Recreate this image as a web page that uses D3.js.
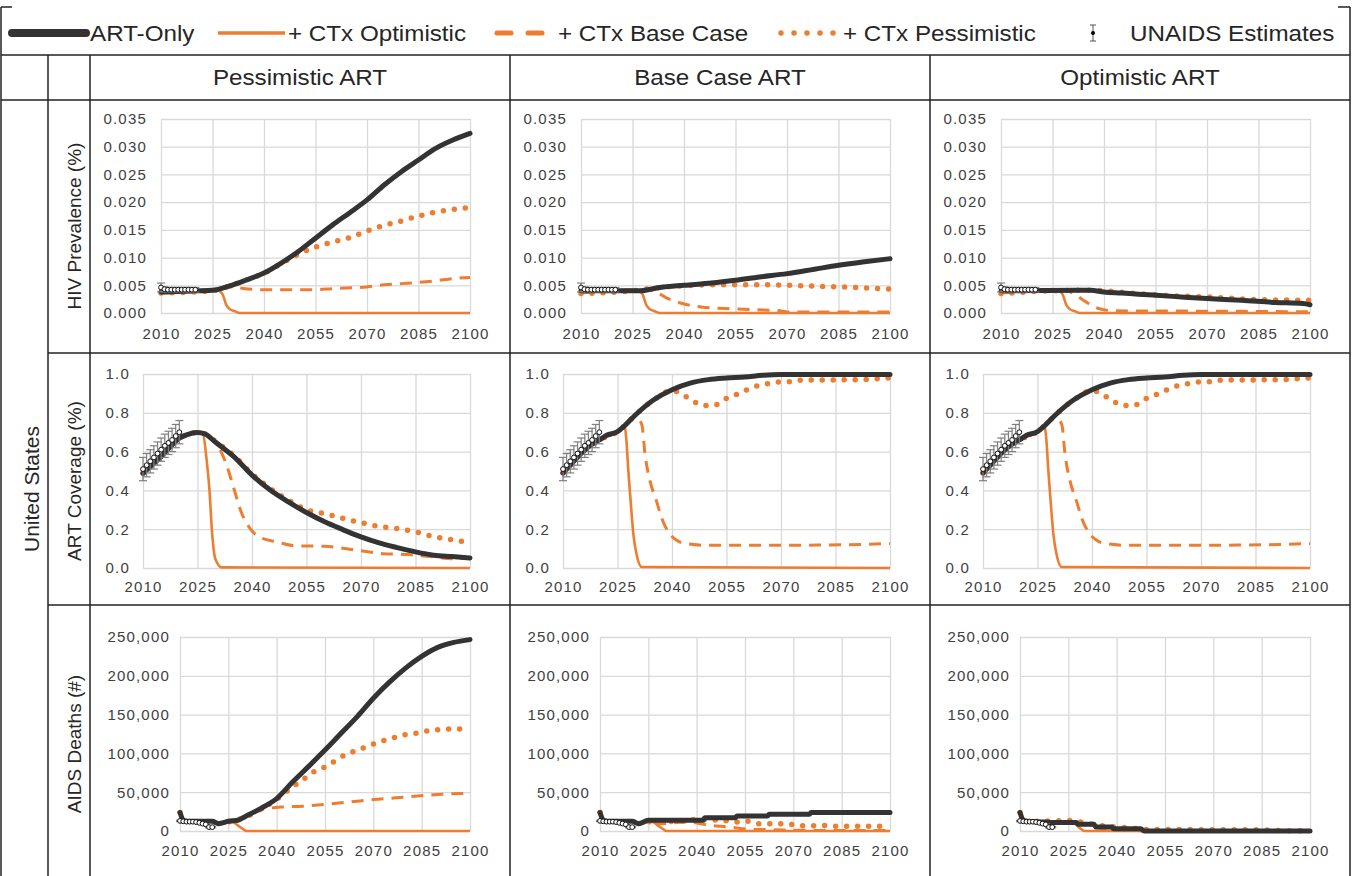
<!DOCTYPE html>
<html>
<head>
<meta charset="utf-8">
<script src="https://cdn.jsdelivr.net/npm/d3@7"></script>
<style>
  body { margin: 0; background: #fff; }
  svg { display: block; font-family: "Liberation Sans", Arial, sans-serif; }
</style>
</head>
<body>
<svg id="chart" width="1352" height="876"></svg>
<script>
// ---- labels ----
const legendNames = ["ART-Only", "+ CTx Optimistic", "+ CTx Base Case", "+ CTx Pessimistic", "UNAIDS Estimates"];
const scenarioNames = ["Pessimistic ART", "Base Case ART", "Optimistic ART"];
const metricNames = ["HIV Prevalence (%)", "ART Coverage (%)", "AIDS Deaths (#)"];
const countryName = "United States";
const xTickYears = [2010, 2025, 2040, 2055, 2070, 2085, 2100];

// ---- UNAIDS estimates (2010-2020) ----
const unaidsYears = [2010, 2011, 2012, 2013, 2014, 2015, 2016, 2017, 2018, 2019, 2020];
const unaidsPrev = [0.0046, 0.0043, 0.0042, 0.0042, 0.0042, 0.0042, 0.0042, 0.0042, 0.0042, 0.0042, 0.0042];
const unaidsPrevErr = [0.0008, 0.0004, 0.0004, 0.0004, 0.0004, 0.0004, 0.0004, 0.0004, 0.0004, 0.0004, 0.0004];
const unaidsCov = [0.51, 0.53, 0.55, 0.57, 0.59, 0.61, 0.63, 0.645, 0.66, 0.68, 0.70];
const unaidsCovErr = [0.06, 0.06, 0.06, 0.06, 0.06, 0.06, 0.06, 0.06, 0.06, 0.06, 0.06];
const unaidsDeaths = [13000, 12500, 12000, 12000, 12000, 11500, 10500, 9500, 8500, 5000, 5000];
const unaidsDeathsErr = [800, 800, 800, 800, 800, 800, 800, 800, 800, 800, 800];

// ---- HIV prevalence ----
const prevPessArtOnly = [[2010,0.0038],[2015,0.0039],[2020,0.0040],[2025,0.0041],[2030,0.0049],[2035,0.0060],[2040,0.0072],[2045,0.0090],[2050,0.0111],[2055,0.0135],[2060,0.0159],[2065,0.0181],[2070,0.0204],[2075,0.0231],[2080,0.0255],[2085,0.0276],[2090,0.0297],[2095,0.0312],[2100,0.0324]];
const prevPessCtxPess = [[2010,0.0036],[2025,0.0040],[2030,0.0049],[2035,0.0060],[2040,0.0072],[2045,0.0089],[2050,0.0106],[2055,0.0119],[2060,0.0128],[2065,0.0136],[2070,0.0148],[2075,0.0158],[2080,0.0166],[2085,0.0175],[2090,0.0182],[2095,0.0187],[2100,0.0190]];
const prevPessCtxBase = [[2010,0.0036],[2025,0.0040],[2029,0.0047],[2032,0.0047],[2034,0.0044],[2040,0.0042],[2055,0.0042],[2060,0.0044],[2070,0.0047],[2075,0.0051],[2080,0.0053],[2090,0.0058],[2095,0.0062],[2100,0.0064]];
const prevCtxOpt = [[2010,0.0037],[2026,0.0042],[2027,0.0040],[2028,0.0033],[2029,0.0015],[2030,0.0007],[2031.5,0.0003],[2033,0],[2100,0]];

const prevBaseArtOnly = [[2010,0.0040],[2027,0.0040],[2033,0.0046],[2040,0.0050],[2048,0.0054],[2055,0.0059],[2062,0.0065],[2070,0.0071],[2078,0.0079],[2085,0.0086],[2092,0.0092],[2100,0.0098]];
const prevBaseCtxPess = [[2010,0.0035],[2025,0.0040],[2033,0.0046],[2040,0.0049],[2050,0.0051],[2060,0.0051],[2070,0.0050],[2080,0.0048],[2090,0.0046],[2100,0.0043]];
const prevBaseCtxBase = [[2010,0.0036],[2027,0.0042],[2030,0.0042],[2035,0.0027],[2039,0.0018],[2045,0.0011],[2052,0.0008],[2061,0.0006],[2068,0.0004],[2070,0.0002],[2100,0.0002]];

const prevOptArtOnly = [[2010,0.0040],[2036,0.0041],[2040,0.0038],[2045,0.0036],[2050,0.0034],[2055,0.0032],[2060,0.0030],[2070,0.0026],[2080,0.0023],[2090,0.0019],[2098,0.0017],[2100,0.0015]];
const prevOptCtxPess = [[2010,0.0035],[2025,0.0040],[2036,0.0041],[2040,0.0040],[2050,0.0035],[2060,0.0031],[2070,0.0029],[2085,0.0024],[2100,0.0023]];
const prevOptCtxBase = [[2010,0.0036],[2028,0.0041],[2031,0.0036],[2034,0.0023],[2038,0.0009],[2043,0.0004],[2080,0.0003],[2100,0.0002]];

// ---- ART coverage ----
const covPessArtOnly = [[2010,0.488],[2012,0.522],[2015,0.574],[2018,0.634],[2020,0.669],[2022,0.686],[2025,0.698],[2027,0.691],[2030,0.648],[2035,0.574],[2040,0.479],[2045,0.402],[2050,0.341],[2055,0.286],[2060,0.238],[2065,0.198],[2070,0.160],[2075,0.129],[2080,0.105],[2085,0.083],[2090,0.066],[2095,0.059],[2100,0.052]];
const covPessCtxPess = [[2010,0.488],[2015,0.574],[2020,0.669],[2025,0.698],[2027,0.691],[2030,0.652],[2035,0.580],[2040,0.485],[2045,0.410],[2050,0.350],[2055,0.300],[2060,0.280],[2065,0.256],[2070,0.234],[2075,0.214],[2080,0.203],[2085,0.186],[2090,0.162],[2095,0.146],[2100,0.130]];
const covPessCtxBase = [[2010,0.488],[2015,0.574],[2020,0.669],[2025,0.698],[2028,0.680],[2031,0.617],[2033,0.531],[2035,0.41],[2037,0.29],[2039.5,0.203],[2042,0.160],[2047,0.134],[2052,0.114],[2060,0.112],[2069,0.091],[2076,0.074],[2083,0.069],[2090,0.057],[2096,0.048],[2100,0.050]];
const covPessCtxOpt = [[2010,0.488],[2015,0.574],[2020,0.669],[2025,0.698],[2026.5,0.690],[2027.5,0.560],[2028.3,0.400],[2029,0.186],[2029.9,0.048],[2031.7,0.003],[2100,0]];

const covBaseArtOnly = [[2010,0.49],[2012,0.53],[2015,0.591],[2018,0.638],[2020,0.660],[2022,0.684],[2025,0.703],[2027,0.734],[2030,0.790],[2035,0.867],[2040,0.919],[2045,0.953],[2050,0.971],[2055,0.979],[2060,0.984],[2065,0.993],[2070,0.997],[2100,0.997]];
const covBaseCtxPess = [[2010,0.49],[2015,0.591],[2020,0.660],[2025,0.703],[2030,0.790],[2035,0.867],[2040,0.915],[2043,0.893],[2045.7,0.862],[2048.7,0.838],[2051.9,0.841],[2054.6,0.871],[2057.5,0.893],[2060,0.914],[2063,0.936],[2066,0.948],[2069,0.959],[2073,0.960],[2076,0.969],[2090,0.970],[2100,0.980]];
const covBaseCtxBase = [[2010,0.49],[2015,0.591],[2020,0.660],[2025,0.703],[2030,0.78],[2031.7,0.738],[2032.6,0.583],[2034,0.445],[2035.8,0.341],[2037.2,0.255],[2039,0.186],[2041.3,0.143],[2043.6,0.126],[2050,0.117],[2080,0.118],[2100,0.126]];
const covBaseCtxOpt = [[2010,0.49],[2015,0.591],[2020,0.660],[2025,0.703],[2027,0.730],[2027.4,0.669],[2028,0.497],[2028.7,0.324],[2029.4,0.169],[2030.3,0.066],[2031.7,0.005],[2100,0]];

// ---- AIDS deaths ----
const deathsPessArtOnly = [[2010,23700],[2011,14000],[2012,12500],[2020,12500],[2022,9500],[2025,12500],[2028,13800],[2030,18100],[2035,28900],[2040,41800],[2045,63400],[2050,83600],[2055,104300],[2060,125900],[2065,147400],[2070,171100],[2075,191800],[2080,209900],[2085,225000],[2090,236600],[2095,243000],[2100,246600]];
const deathsPessCtxPess = [[2010,23700],[2011,14000],[2012,12500],[2020,12000],[2022,9500],[2025,11500],[2030,17500],[2035,28000],[2040,41000],[2045,57000],[2048,65500],[2051,75000],[2054.5,81500],[2058,90000],[2061.5,98700],[2065,103900],[2068.4,109500],[2072,115000],[2075.7,119400],[2079.3,123700],[2083,125900],[2086.6,128900],[2090,130600],[2094,131500],[2100,131000]];
const deathsPessCtxBase = [[2010,23700],[2011,14000],[2012,12500],[2020,12000],[2022,9500],[2025,11500],[2030,18000],[2033,24000],[2036,28000],[2042,31000],[2048,31900],[2055.5,34500],[2063,37500],[2070,40500],[2077,42700],[2084.5,45300],[2091.7,47400],[2100,48500]];
const deathsCtxOpt = [[2010,23700],[2011,14000],[2012,12500],[2020,12000],[2022,9500],[2026,12000],[2028.6,5200],[2030.7,0],[2100,0]];

const deathsBaseArtOnly = [[2010,23700],[2011,14000],[2012,12500],[2020,12500],[2022,9500],[2025,13800],[2042,14000],[2042.5,17200],[2052,17200],[2052.5,19400],[2062,19400],[2062.5,21600],[2075,21600],[2075.5,23700],[2100,23700]];
const deathsBaseCtxPess = [[2010,23700],[2011,14000],[2012,12500],[2020,12000],[2022,9500],[2025,12000],[2035,12500],[2040,14700],[2048,13800],[2052,11600],[2056,12500],[2059,9500],[2067,9500],[2071,7300],[2075,6500],[2078,7300],[2085,6000],[2100,6000]];
const deathsBaseCtxBase = [[2010,23700],[2011,14000],[2012,12500],[2020,12000],[2022,9500],[2026,12000],[2028.6,9500],[2037,11600],[2044,7300],[2050,5200],[2056.6,2200],[2064,1700],[2071,900],[2100,500]];

const deathsOptArtOnly = [[2010,23700],[2011,14000],[2012,12500],[2018,11500],[2020,10800],[2027.5,10800],[2028,8600],[2033,8600],[2033.5,5200],[2038.5,5200],[2039,3000],[2047.5,3000],[2048.5,0],[2100,0]];
const deathsOptCtxPess = [[2010,23700],[2011,14000],[2012,12500],[2020,13000],[2025,13500],[2029,11600],[2032,9000],[2036,6500],[2040,5200],[2045,3500],[2050,2000],[2085,1500],[2090,500],[2100,300]];
const deathsOptCtxBase = [[2010,23700],[2011,14000],[2012,12500],[2020,12000],[2027,11500],[2030,8000],[2035,4000],[2040,2000],[2045,1000],[2050,300],[2100,0]];
const deathsOptCtxOpt = [[2010,23700],[2011,14000],[2012,12500],[2020,12000],[2026,12000],[2028.5,4000],[2030,0],[2100,0]];

// ---- layout ----
const ORANGE = "#ED7D31";
const DARK = "#333333";
const GRID = "#d9d9d9";
const TEXT = "#262626";

const svg = d3.select("#chart");

// each metric row: plot box and y axis
const rows = [
  {left: 161, top: 119, bottom: 313, domain: [0, 0.035], ticks: d3.range(0, 0.0351, 0.005), fmt: d3.format(".3f"), yPad: 14, xPad: 15, labelY: 226,
   est: unaidsPrev, err: unaidsPrevErr},
  {left: 143, top: 374, bottom: 568, domain: [0, 1], ticks: d3.range(0, 1.01, 0.2), fmt: d3.format(".1f"), yPad: 13, xPad: 13, labelY: 481,
   est: unaidsCov, err: unaidsCovErr},
  {left: 180, top: 637, bottom: 831, domain: [0, 250000], ticks: d3.range(0, 250001, 50000), fmt: d3.format(","), yPad: 10, xPad: 14, labelY: 744,
   est: unaidsDeaths, err: unaidsDeathsErr}
];
const colOffsets = [0, 420, 840];
const plotRight = 470;

const panels = [
  {row: 0, col: 0, art: prevPessArtOnly, opt: prevCtxOpt, base: prevPessCtxBase, pess: prevPessCtxPess},
  {row: 0, col: 1, art: prevBaseArtOnly, opt: prevCtxOpt, base: prevBaseCtxBase, pess: prevBaseCtxPess},
  {row: 0, col: 2, art: prevOptArtOnly, opt: prevCtxOpt, base: prevOptCtxBase, pess: prevOptCtxPess},
  {row: 1, col: 0, art: covPessArtOnly, opt: covPessCtxOpt, base: covPessCtxBase, pess: covPessCtxPess},
  {row: 1, col: 1, art: covBaseArtOnly, opt: covBaseCtxOpt, base: covBaseCtxBase, pess: covBaseCtxPess},
  {row: 1, col: 2, art: covBaseArtOnly, opt: covBaseCtxOpt, base: covBaseCtxBase, pess: covBaseCtxPess},
  {row: 2, col: 0, art: deathsPessArtOnly, opt: deathsCtxOpt, base: deathsPessCtxBase, pess: deathsPessCtxPess},
  {row: 2, col: 1, art: deathsBaseArtOnly, opt: deathsCtxOpt, base: deathsBaseCtxBase, pess: deathsBaseCtxPess},
  {row: 2, col: 2, art: deathsOptArtOnly, opt: deathsOptCtxOpt, base: deathsOptCtxBase, pess: deathsOptCtxPess}
];

const seriesStyle = {
  opt:  {width: 2.6, dash: null, cap: "butt", color: ORANGE},
  base: {width: 3, dash: "12,8", cap: "butt", color: ORANGE},
  pess: {width: 5.5, dash: "0,11", cap: "round", color: ORANGE},
  art:  {width: 5, dash: null, cap: "round", color: DARK}
};

// ---- table frame ----
const frame = svg.append("g").attr("stroke", "#222").attr("stroke-width", 1.5);
const hLines = [[1, 1350, 55], [1, 1350, 100], [48, 1350, 353], [48, 1350, 605], [1, 12, 7], [1338, 1350, 7]];
const vLines = [[1, 7, 876], [48, 55, 876], [90, 55, 876], [510, 55, 876], [930, 55, 876], [1350, 7, 876]];
hLines.forEach(([x1, x2, y]) => frame.append("line").attr("x1", x1).attr("x2", x2).attr("y1", y).attr("y2", y));
vLines.forEach(([x, y1, y2]) => frame.append("line").attr("x1", x).attr("x2", x).attr("y1", y1).attr("y2", y2));

// ---- legend ----
const lg = svg.append("g");
const legendY = 33;
lg.append("line").attr("x1", 12).attr("x2", 86).attr("y1", legendY).attr("y2", legendY)
  .attr("stroke", DARK).attr("stroke-width", 8).attr("stroke-linecap", "round");
lg.append("line").attr("x1", 218).attr("x2", 285).attr("y1", legendY).attr("y2", legendY)
  .attr("stroke", ORANGE).attr("stroke-width", 3.5);
lg.append("line").attr("x1", 497).attr("x2", 545).attr("y1", legendY).attr("y2", legendY)
  .attr("stroke", ORANGE).attr("stroke-width", 5).attr("stroke-dasharray", "14,17").attr("stroke-linecap", "round");
lg.append("line").attr("x1", 781).attr("x2", 834).attr("y1", legendY).attr("y2", legendY)
  .attr("stroke", ORANGE).attr("stroke-width", 5.5).attr("stroke-dasharray", "0,13").attr("stroke-linecap", "round");
// error bar icon
const ebx = 1093;
lg.append("line").attr("x1", ebx).attr("x2", ebx).attr("y1", 25).attr("y2", 41).attr("stroke", "#555").attr("stroke-width", 1);
[25, 41].forEach(yy => lg.append("line").attr("x1", ebx - 3).attr("x2", ebx + 3).attr("y1", yy).attr("y2", yy).attr("stroke", "#555").attr("stroke-width", 1));
lg.append("circle").attr("cx", ebx).attr("cy", 33).attr("r", 2).attr("fill", "#000");

const legendTextX = [90, 288, 558, 843, 1130];
legendNames.forEach((name, i) => {
  lg.append("text")
    .attr("transform", `translate(${legendTextX[i]},${legendY + 8}) scale(1.1,1)`)
    .attr("font-size", 22).attr("fill", TEXT)
    .text(name);
});

// ---- header row and side labels ----
scenarioNames.forEach((name, i) => {
  svg.append("text")
    .attr("transform", `translate(${300 + colOffsets[i]},85) scale(1.1,1)`)
    .attr("text-anchor", "middle").attr("font-size", 22).attr("fill", TEXT)
    .text(name);
});
svg.append("text")
  .attr("transform", "translate(39,489) rotate(-90)")
  .attr("text-anchor", "middle").attr("font-size", 21).attr("fill", TEXT)
  .text(countryName);
metricNames.forEach((name, i) => {
  svg.append("text")
    .attr("transform", `translate(81,${rows[i].labelY}) rotate(-90)`)
    .attr("text-anchor", "middle").attr("font-size", 19).attr("fill", TEXT)
    .text(name);
});

// ---- panels ----
panels.forEach(p => {
  const r = rows[p.row];
  const dx = colOffsets[p.col];
  const x = d3.scaleLinear().domain([2010, 2100]).range([r.left + dx, plotRight + dx]);
  const y = d3.scaleLinear().domain(r.domain).range([r.bottom, r.top]);
  const g = svg.append("g");

  const yAxis = g.append("g")
    .attr("transform", `translate(${r.left + dx},0)`)
    .call(d3.axisLeft(y).tickValues(r.ticks).tickFormat(r.fmt)
      .tickSize(-(plotRight - r.left)).tickPadding(r.yPad));
  const xAxis = g.append("g")
    .attr("transform", `translate(0,${r.bottom})`)
    .call(d3.axisBottom(x).tickValues(xTickYears).tickFormat(d3.format("d"))
      .tickSize(-(r.bottom - r.top)).tickPadding(r.xPad));
  [yAxis, xAxis].forEach(ax => {
    ax.select(".domain").remove();
    ax.selectAll(".tick line").attr("stroke", GRID).attr("stroke-width", 1.3);
    ax.selectAll(".tick text").attr("fill", "#404040").attr("font-size", 15)
      .attr("letter-spacing", 1.2).attr("font-family", '"Liberation Sans", Arial, sans-serif');
  });

  const line = d3.line().x(d => x(d[0])).y(d => y(d[1])).curve(d3.curveMonotoneX);
  ["opt", "base", "pess", "art"].forEach(key => {
    const s = seriesStyle[key];
    g.append("path")
      .attr("d", line(p[key]))
      .attr("fill", "none")
      .attr("stroke", s.color)
      .attr("stroke-width", s.width)
      .attr("stroke-linecap", s.cap)
      .attr("stroke-linejoin", "round")
      .attr("stroke-dasharray", s.dash);
  });

  // UNAIDS estimates with error bars
  const est = unaidsYears.map((yr, i) => ({yr, v: r.est[i], e: r.err[i]}));
  const eb = g.append("g").attr("stroke", "#7f7f7f").attr("stroke-width", 1.2);
  eb.selectAll("line.v").data(est).join("line").attr("class", "v")
    .attr("x1", d => x(d.yr)).attr("x2", d => x(d.yr))
    .attr("y1", d => y(d.v - d.e)).attr("y2", d => y(d.v + d.e));
  eb.selectAll("line.lo").data(est).join("line").attr("class", "lo")
    .attr("x1", d => x(d.yr) - 4).attr("x2", d => x(d.yr) + 4)
    .attr("y1", d => y(d.v - d.e)).attr("y2", d => y(d.v - d.e));
  eb.selectAll("line.hi").data(est).join("line").attr("class", "hi")
    .attr("x1", d => x(d.yr) - 4).attr("x2", d => x(d.yr) + 4)
    .attr("y1", d => y(d.v + d.e)).attr("y2", d => y(d.v + d.e));
  g.selectAll("circle.est").data(est).join("circle").attr("class", "est")
    .attr("cx", d => x(d.yr)).attr("cy", d => y(d.v)).attr("r", 2.4)
    .attr("fill", "#fff").attr("stroke", "#111").attr("stroke-width", 1);
});
</script>
</body>
</html>
